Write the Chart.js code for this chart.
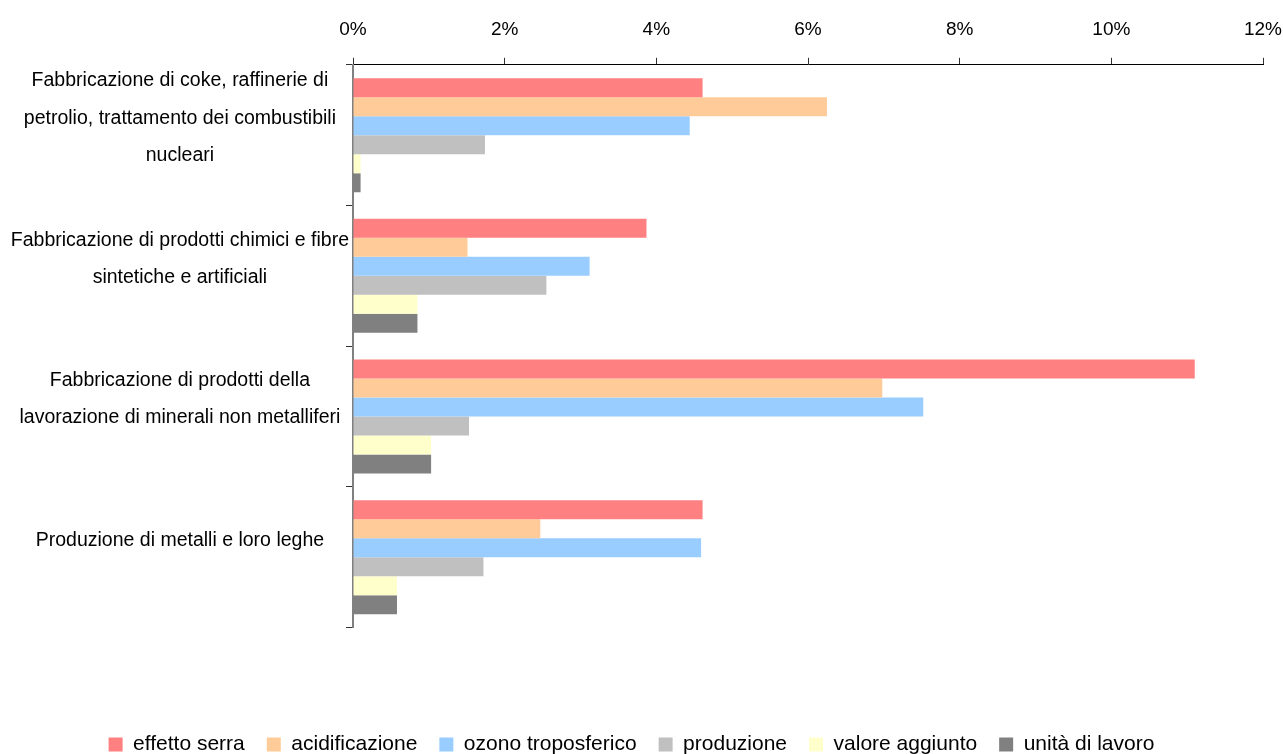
<!DOCTYPE html>
<html>
<head>
<meta charset="utf-8">
<script src="https://cdn.jsdelivr.net/npm/chart.js@4"></script>
<style>
  html, body { margin: 0; padding: 0; background: #fff; }
  #wrap { width: 1283px; height: 754px; }
</style>
</head>
<body>
<div id="wrap"><canvas id="chart"></canvas></div>
<script>
// categories (y axis), one label per sector, split in lines like the original
const sectors = [
    ['Fabbricazione di coke, raffinerie di', 'petrolio, trattamento dei combustibili', 'nucleari'],
    ['Fabbricazione di prodotti chimici e fibre', 'sintetiche e artificiali'],
    ['Fabbricazione di prodotti della', 'lavorazione di minerali non metalliferi'],
    ['Produzione di metalli e loro leghe']
];

// series values, in percent
const effettoSerra = [4.61, 3.87, 11.10, 4.61];
const acidificazione = [6.25, 1.51, 6.98, 2.47];
const ozonoTroposferico = [4.44, 3.12, 7.52, 4.59];
const produzione = [1.74, 2.55, 1.53, 1.72];
const valoreAggiunto = [0.10, 0.85, 1.03, 0.58];
const unitaDiLavoro = [0.10, 0.85, 1.03, 0.58];

const seriesNames = ['effetto serra', 'acidificazione', 'ozono troposferico', 'produzione', 'valore aggiunto', 'unità di lavoro'];
const seriesColors = ['#FF8080', '#FFCC99', '#99CCFF', '#C0C0C0', '#FFFFCC', '#808080'];
const seriesValues = [effettoSerra, acidificazione, ozonoTroposferico, produzione, valoreAggiunto, unitaDiLavoro];

const FONT = "'Liberation Sans', Arial, sans-serif";

const datasets = seriesNames.map((name, i) => ({
    label: name,
    data: seriesValues[i],
    backgroundColor: seriesColors[i],
    borderWidth: 0,
    categoryPercentage: 0.81,
    barPercentage: 1.0
}));

// pull the legend a bit lower, closer to the bottom edge
const legendLower = {
    id: 'legendLower',
    beforeInit(chart) {
        const fit = chart.legend.fit;
        chart.legend.fit = function () {
            fit.call(this);
            this.height -= 11;
        };
    }
};

const ctx = document.getElementById('chart').getContext('2d');
new Chart(ctx, {
    type: 'bar',
    data: { labels: sectors, datasets },
    plugins: [legendLower],
    options: {
        indexAxis: 'y',
        responsive: true,
        maintainAspectRatio: false,
        animation: false,
        layout: { padding: { top: 1, right: 20, bottom: 0, left: 0 } },
        scales: {
            x: {
                position: 'top',
                min: 0,
                max: 12,
                ticks: {
                    stepSize: 2,
                    padding: 17,
                    color: '#000',
                    font: { family: FONT, size: 19 },
                    callback: (v) => v + '%'
                },
                grid: { drawOnChartArea: false, tickLength: 7, color: '#333' },
                border: { display: true, color: '#000', width: 1 },
                afterFit: (scale) => { scale.paddingRight = 2; }
            },
            y: {
                ticks: {
                    crossAlign: 'center',
                    padding: -3,
                    labelOffset: -17,
                    color: '#000',
                    font: { family: FONT, size: 19.5, lineHeight: 1.9 }
                },
                grid: { offset: true, drawOnChartArea: false, tickLength: 7, color: '#333' },
                border: { display: true, color: '#808080', width: 2 },
                afterFit: (scale) => { scale.width = 353; }
            }
        },
        plugins: {
            legend: {
                position: 'bottom',
                title: { display: true, text: '', padding: { top: 70, bottom: 0 } },
                labels: {
                    boxWidth: 14,
                    boxHeight: 14,
                    padding: 22,
                    color: '#000',
                    font: { family: FONT, size: 21 }
                }
            },
            tooltip: { enabled: false }
        }
    }
});
</script>
</body>
</html>
